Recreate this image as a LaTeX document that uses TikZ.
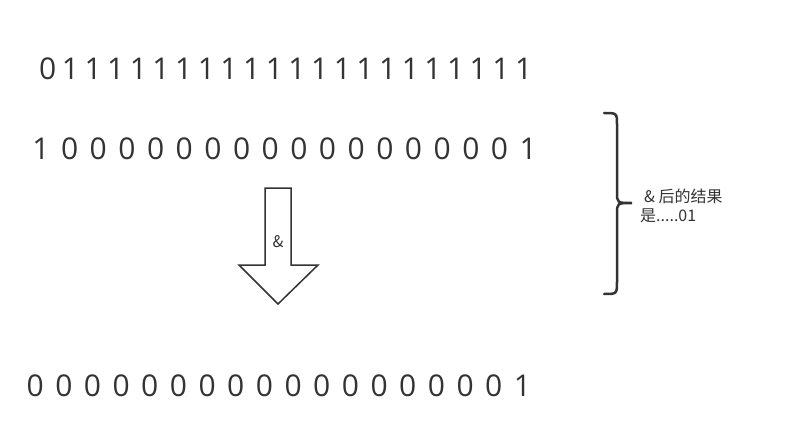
\documentclass[tikz,border=0pt]{standalone}
\usepackage{fontspec}
\setmainfont{Open Sans}
\newfontfamily\cjk{Noto Sans CJK SC}
\definecolor{ink}{RGB}{51,51,51}
\tikzset{
  bits/.style={anchor=base west, inner sep=0pt, text=ink,
    font=\fontsize{30pt}{32pt}\selectfont,
    execute at begin node={\spaceskip=#1 plus 0pt minus 0pt\relax}},
  note/.style={inner sep=0pt, text=ink, font=\cjk\fontsize{16pt}{19pt}\selectfont}
}

\begin{document}
\begin{tikzpicture}[x=1pt,y=-1pt]
\useasboundingbox (0,0) rectangle (800,441);
%\draw[red,very thin] (0,0) rectangle (800,441);
\node[bits=5.5pt] (mask) at (39,80) {0 1 1 1 1 1 1 1 1 1 1 1 1 1 1 1 1 1 1 1 1 1};
\node[bits=11.5pt] (val) at (32.2,159) {1 0 0 0 0 0 0 0 0 0 0 0 0 0 0 0 0 1};
\node[bits=11.5pt] (res) at (26.4,396) {0 0 0 0 0 0 0 0 0 0 0 0 0 0 0 0 0 1};
\draw[ink,line width=1.5pt,line join=miter] (265,188) -- (291,188) -- (291,265) -- (318,265)
  -- (278,304) -- (239,265) -- (265,265) -- cycle;
\node[note] (op) at (278,242) {\&};
\draw[ink,line width=2.5pt,line cap=round] (604,113) .. controls (617,113) .. (617,125) -- (617,192)
  .. controls (617,203) .. (632,203) .. controls (617,203) .. (617,214) -- (617,281)
  .. controls (617,294) .. (604,294);
\node[note,anchor=west,align=left] (txt) at (640,206) {\hspace*{4pt}\& 后的结果\\是.....01};
\end{tikzpicture}
\end{document}
